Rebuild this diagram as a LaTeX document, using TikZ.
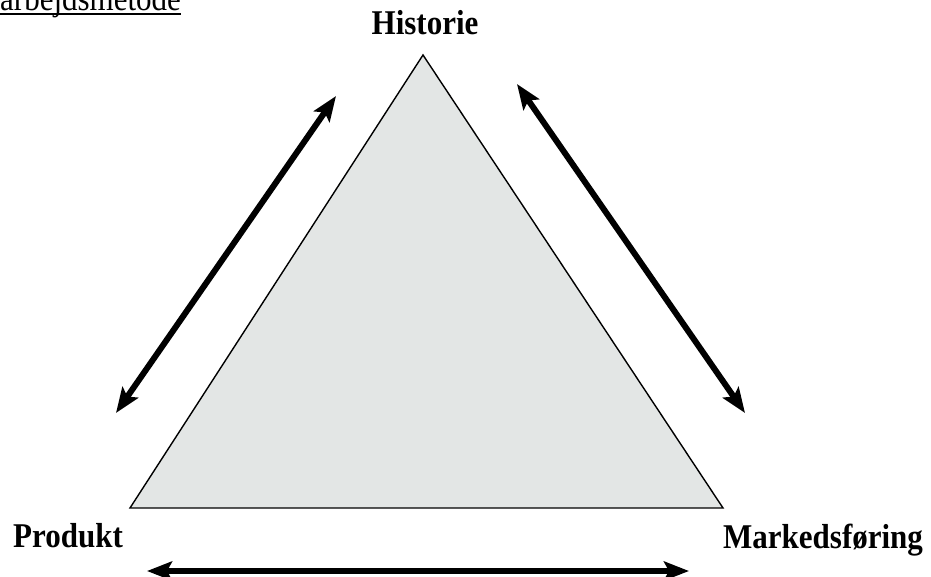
\documentclass[tikz,border=0pt]{standalone}
\usepackage{fontspec}
\setmainfont{Liberation Serif}
\usetikzlibrary{arrows.meta}
\definecolor{trifill}{RGB}{227,230,229}
\newcommand{\tallt}[1]{\scalebox{1}[1.12]{#1}}
\tikzset{
  biarrow/.style={line width=6pt,{Stealth[length=25pt,width=19pt,inset=5pt]}-{Stealth[length=25pt,width=19pt,inset=5pt]}},
  corner/.style={font=\fontsize{31}{36}\selectfont\bfseries,inner sep=0pt},
  titletext/.style={font=\fontsize{31}{36}\selectfont,inner sep=0pt}
}
\begin{document}
\begin{tikzpicture}[x=1pt,y=-1pt]
\useasboundingbox (0,0) rectangle (931,577);
% title
\node[titletext,anchor=base west] (title) at (0,11) {\tallt{arbejdsmetode}};
\draw[line width=1.6pt] ([yshift=-3pt]title.base west) -- ([yshift=-3pt]title.base east);
% triangle
\coordinate (top) at (423,55);
\coordinate (bl) at (130,508);
\coordinate (br) at (723,508);
\draw[fill=trifill,line width=1.4pt,line join=miter] (top) -- (bl) -- (br) -- cycle;
% labels
\node[corner,anchor=base] (hist) at (425,35) {\tallt{Historie}};
\node[corner,anchor=base west] (prod) at (13,547) {\tallt{Produkt}};
\node[corner,anchor=base west] (mark) at (723,548) {\tallt{Markedsføring}};
% arrows
\coordinate (l1) at (116,413);
\coordinate (l2) at (336,96);
\coordinate (r1) at (517,84);
\coordinate (r2) at (745,413);
\coordinate (b1) at (147,571);
\coordinate (b2) at (689,571);
\draw[biarrow] (l1) -- (l2);
\draw[biarrow] (r1) -- (r2);
\draw[biarrow] (b1) -- (b2);
\end{tikzpicture}
\end{document}
